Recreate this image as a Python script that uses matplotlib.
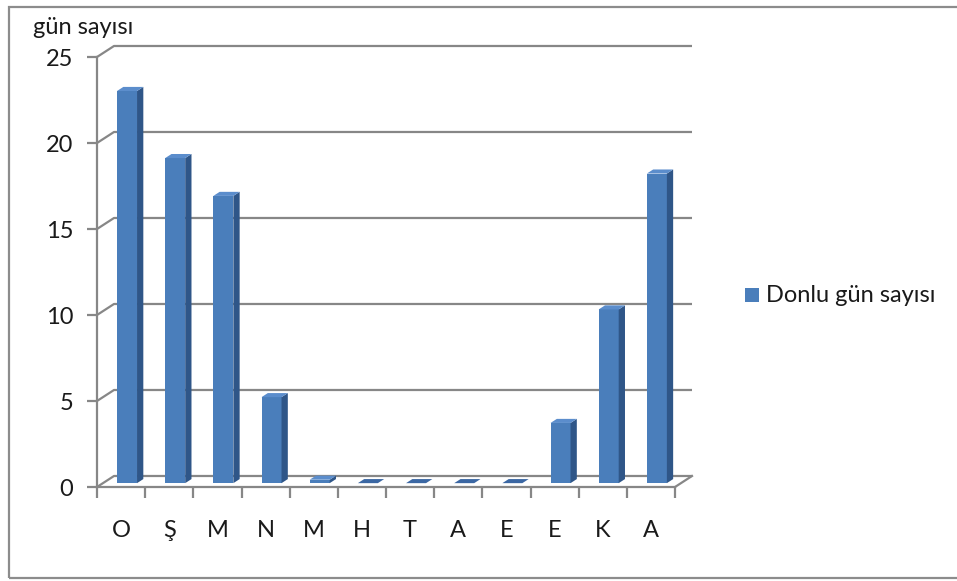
import matplotlib
matplotlib.use("Agg")
import matplotlib.pyplot as plt
from matplotlib.patches import Polygon, Rectangle

# Frost days per month (Oct .. Sep)
months = ['O', 'Ş', 'M', 'N', 'M', 'H', 'T', 'A', 'E', 'E', 'K', 'A']
frost_days = [22.8, 18.9, 16.7, 5.0, 0.2, 0, 0, 0, 0, 3.5, 10.1, 18.0]
y_ticks = [0, 5, 10, 15, 20, 25]
series_name = 'Donlu gün sayısı'
y_title = 'gün sayısı'

plt.rcParams['font.family'] = ['Lato', 'DejaVu Sans']

GRID = '#878787'
FRONT = '#4a7ebb'
SIDE = '#2f5688'
TOP = '#5b8dcc'
TXT = '#1a1a1a'

# depth of the 3d box in data units (x in categories, y in days)
DX = 0.353
DY = 0.64
BAR_W = 0.415
BAR_F = 0.35    # where the bar starts inside the depth
BAR_D = 0.37    # how deep the bar is

fig = plt.figure(figsize=(9.57, 5.81), dpi=100)
fig.add_artist(Rectangle((9 / 957, 3 / 581), 1.0, 571 / 581, transform=fig.transFigure,
                         fill=False, edgecolor='#8c8c8c', linewidth=1.6))

ax = fig.add_axes([97 / 957, 94 / 581, 578 / 957, 430 / 581])
n = len(months)
ax.set_xlim(0, n)
ax.set_ylim(0, 25)

# spines = front edges of the box
for side in ['top', 'right']:
    ax.spines[side].set_visible(False)
for side in ['left', 'bottom']:
    ax.spines[side].set_color(GRID)
    ax.spines[side].set_linewidth(1.6)

ax.set_yticks(y_ticks)
ax.set_yticklabels([str(v) for v in y_ticks], fontsize=17, color=TXT)
ax.tick_params(axis='y', length=7, width=1.6, color=GRID, pad=10)

ax.set_xticks(range(n + 1))
ax.set_xticklabels([])
ax.tick_params(axis='x', which='major', length=8, width=1.6, color=GRID)
ax.set_xticks([i + 0.5 for i in range(n)], minor=True)
ax.set_xticklabels(months, minor=True, fontsize=17, color=TXT)
ax.tick_params(axis='x', which='minor', length=0, pad=24)

# side wall + back wall gridlines
for v in y_ticks:
    ax.plot([0, DX, n + DX], [v, v + DY, v + DY], color=GRID, lw=1.6,
            clip_on=False, zorder=1, solid_capstyle='butt')
# right edge of the floor
ax.plot([n, n + DX], [0, DY], color=GRID, lw=1.6, clip_on=False, zorder=1)

# 3d columns
for i, v in enumerate(frost_days):
    x0 = i + 0.5 - BAR_W / 2 + BAR_F * DX
    y0 = BAR_F * DY
    ddx = BAR_D * DX
    ddy = BAR_D * DY
    front = Polygon([(x0, y0), (x0 + BAR_W, y0), (x0 + BAR_W, y0 + v), (x0, y0 + v)],
                    closed=True, facecolor=FRONT, edgecolor='none', zorder=3)
    side = Polygon([(x0 + BAR_W, y0), (x0 + BAR_W + ddx, y0 + ddy),
                    (x0 + BAR_W + ddx, y0 + ddy + v), (x0 + BAR_W, y0 + v)],
                   closed=True, facecolor=SIDE, edgecolor='none', zorder=3)
    top_color = TOP if v > 0 else '#3b67a3'
    top = Polygon([(x0, y0 + v), (x0 + BAR_W, y0 + v),
                   (x0 + BAR_W + ddx, y0 + v + ddy), (x0 + ddx, y0 + v + ddy)],
                  closed=True, facecolor=top_color, edgecolor='none', zorder=3)
    for p in (front, side, top):
        p.set_clip_on(False)
        ax.add_patch(p)

# axis title at the top left
fig.text(33 / 957, 1 - 28 / 581, y_title, fontsize=17, color=TXT,
         ha='left', va='center')

# legend
fig.add_artist(Rectangle((745 / 957, 1 - 302 / 581), 14 / 957, 14 / 581,
                         transform=fig.transFigure, facecolor=FRONT, edgecolor='none'))
fig.text(766 / 957, 1 - 295 / 581, series_name, fontsize=17, color=TXT,
         ha='left', va='center')

fig.savefig('out.png', dpi=100)
